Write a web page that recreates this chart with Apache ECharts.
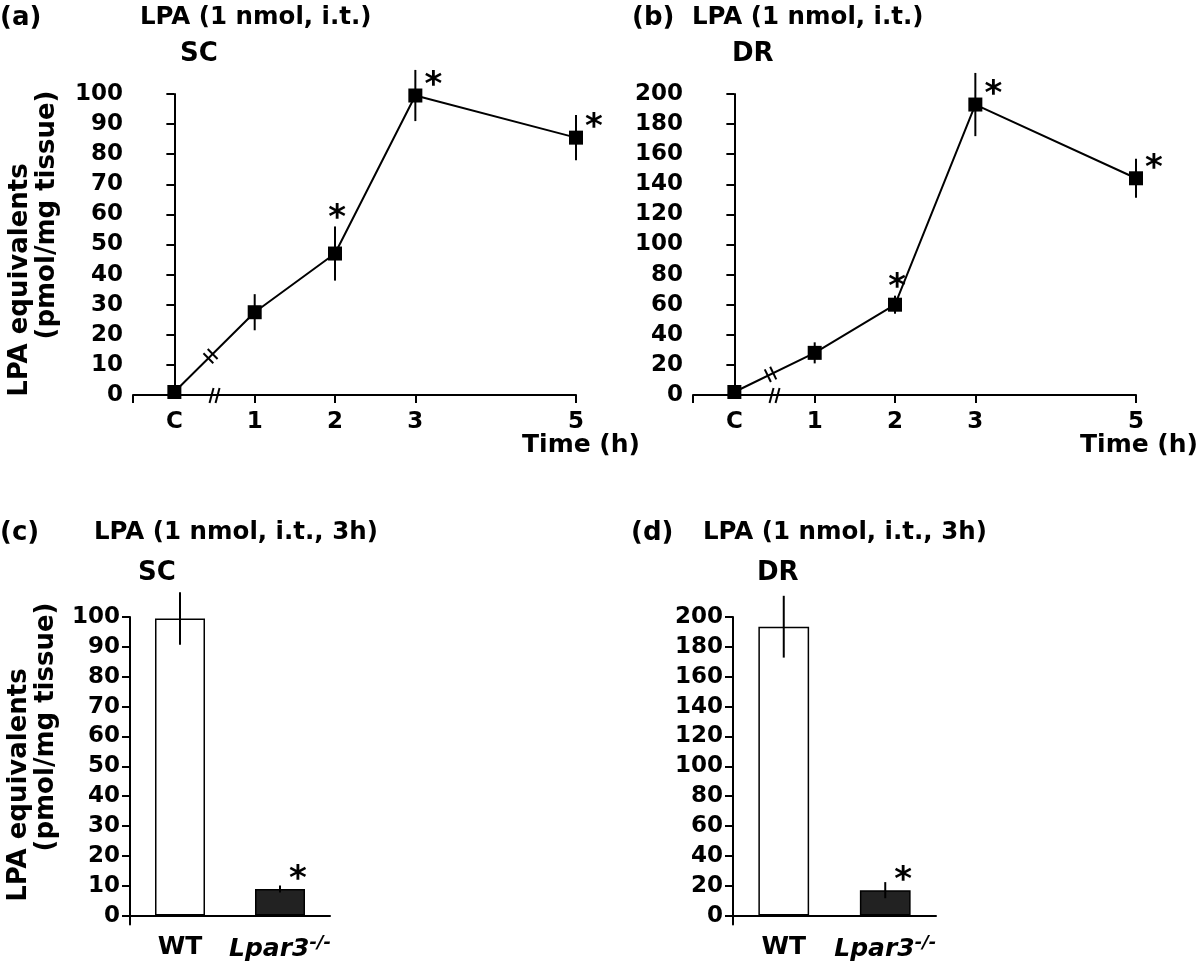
<!DOCTYPE html>
<html><head><meta charset="utf-8">
<script src="https://cdn.jsdelivr.net/npm/echarts@6/dist/echarts.min.js"></script>
<style>html,body{margin:0;padding:0;background:#fff}#c{width:1200px;height:962px}</style>
</head><body><div id="c"></div>
<script>
// ---- data ----
const timeTicks = [0, 1, 2, 3, 5];
const timeLabels = ['C', '1', '2', '3', '5'];
const scMean = [1, 27.5, 47, 99.5, 85.5];
const scErr = [0, 6, 9, 8.5, 7.5];
const scSig = ['', '', 'top', 'right', 'right'];
const drMean = [2, 28, 60, 193, 144];
const drErr = [0, 7, 6, 21, 13];
const drSig = ['', '', 'top', 'right', 'right'];
const genotypes = ['WT', 'Lpar3-/-'];
const scBarMean = [99.5, 8.9];
const scBarErr = [8.8, 1.2];
const drBarMean = [193.5, 17];
const drBarErr = [20.7, 5.4];
const barSig = ['', 'right'];
const scTicks = [0, 10, 20, 30, 40, 50, 60, 70, 80, 90, 100];
const drTicks = [0, 20, 40, 60, 80, 100, 120, 140, 160, 180, 200];
const axisBreakAt = 0.5;

// ---- style ----
const FF = '"DejaVu Sans", "Liberation Sans", sans-serif';
const BLK = '#000';
const tickFont = {fontFamily: FF, fontWeight: 'bold', fontSize: 23, color: BLK};
const XMIN = -0.515;

function timeX(g) {
  return {type: 'value', gridIndex: g, min: XMIN, max: 5,
    axisLine: {show: true, onZero: false, lineStyle: {color: BLK, width: 2}},
    axisTick: {show: true, customValues: [XMIN, 1, 2, 3, 5], length: 8, lineStyle: {color: BLK, width: 2}},
    axisLabel: Object.assign({show: true, customValues: timeTicks, margin: 16,
      formatter: v => timeLabels[timeTicks.indexOf(v)]}, tickFont),
    splitLine: {show: false}};
}
function valY(g, max, interval) {
  return {type: 'value', gridIndex: g, min: 0, max: max, interval: interval,
    axisLine: {show: true, lineStyle: {color: BLK, width: 2}},
    axisTick: {show: true, length: 8, lineStyle: {color: BLK, width: 2}},
    axisLabel: Object.assign({show: true, margin: 10}, tickFont),
    splitLine: {show: false}};
}
function barY(g, min, max, ticks) {
  return {type: 'value', gridIndex: g, min: min, max: max,
    axisLine: {show: true, lineStyle: {color: BLK, width: 2}},
    axisTick: {show: true, customValues: ticks, length: 8, lineStyle: {color: BLK, width: 2}},
    axisLabel: Object.assign({show: true, customValues: ticks, margin: 10}, tickFont),
    splitLine: {show: false}};
}
function catX(g) {
  return {type: 'category', gridIndex: g, data: genotypes, boundaryGap: true,
    axisLine: {show: true, onZero: true, lineStyle: {color: BLK, width: 2}},
    axisTick: {show: false},
    axisLabel: {show: true, margin: 10, interval: 0,
      formatter: v => v === 'WT' ? '{n|WT}' : '{i|Lpar3}{s|-/-}',
      rich: {
        n: {fontFamily: FF, fontWeight: 'bold', fontSize: 25, color: BLK},
        i: {fontFamily: FF, fontWeight: 'bold', fontStyle: 'italic', fontSize: 25, color: BLK},
        s: {fontFamily: FF, fontWeight: 'bold', fontStyle: 'italic', fontSize: 18, color: BLK, padding: [0, 0, 12, 0]}
      }},
    splitLine: {show: false}};
}

function errSeries(g, xs, mean, err) {
  return {type: 'custom', xAxisIndex: g, yAxisIndex: g, silent: true, z: 4, clip: false,
    data: xs.map((x, i) => [x, mean[i], err[i]]),
    renderItem(params, api) {
      const x = api.value(0), m = api.value(1), e = api.value(2);
      if (!e) return null;
      const p1 = api.coord([x, m + e]), p2 = api.coord([x, m - e]);
      return {type: 'line', shape: {x1: p1[0], y1: p1[1], x2: p2[0], y2: p2[1]},
        style: {stroke: BLK, lineWidth: 2}};
    }};
}
function starSeries(g, xs, mean, err, sig) {
  return {type: 'custom', xAxisIndex: g, yAxisIndex: g, silent: true, z: 6, clip: false,
    data: xs.map((x, i) => [x, mean[i], err[i]]),
    renderItem(params, api) {
      const kind = sig[params.dataIndex];
      if (!kind) return null;
      const x = api.value(0), m = api.value(1), e = api.value(2);
      let px, py;
      if (kind === 'top') { const p = api.coord([x, m + e]); px = p[0] + 2; py = p[1] - 16; }
      else { const p = api.coord([x, m]); px = p[0] + 18; py = p[1] - 18; }
      return {type: 'text', x: px, y: py + 9,
        style: {text: '*', fontFamily: FF, fontWeight: 'bold', fontSize: 34, fill: BLK,
          align: 'center', verticalAlign: 'middle'}};
    }};
}
function breakSeries(g, xs, mean) {
  return {type: 'custom', xAxisIndex: g, yAxisIndex: g, silent: true, z: 7, clip: false,
    data: [[xs[0], mean[0]]],
    renderItem(params, api) {
      const a = api.coord([xs[0], mean[0]]), b = api.coord([xs[1], mean[1]]);
      const t = 0.45;
      const cx = a[0] + (b[0] - a[0]) * t, cy = a[1] + (b[1] - a[1]) * t;
      const L = Math.hypot(b[0] - a[0], b[1] - a[1]);
      const ux = (b[0] - a[0]) / L, uy = (b[1] - a[1]) / L;
      const nx = -uy, ny = ux;
      const h = 7, gap = 3;
      const kids = [];
      [-gap, gap].forEach(s => {
        const mx = cx + ux * s, my = cy + uy * s;
        kids.push({type: 'line', shape: {x1: mx - nx * h, y1: my - ny * h, x2: mx + nx * h, y2: my + ny * h},
          style: {stroke: BLK, lineWidth: 2}});
      });
      const p = api.coord([axisBreakAt, 0]);
      [-3, 3].forEach(s => {
        kids.push({type: 'line', shape: {x1: p[0] + s - 2, y1: p[1] + 8, x2: p[0] + s + 2, y2: p[1] - 7},
          style: {stroke: BLK, lineWidth: 2}});
      });
      return {type: 'group', children: kids};
    }};
}
function lineSeries(g, xs, mean) {
  return {type: 'line', xAxisIndex: g, yAxisIndex: g, data: xs.map((x, i) => [x, mean[i]]),
    symbol: 'rect', symbolSize: 14, showSymbol: true, z: 5, silent: true, animation: false,
    itemStyle: {color: BLK}, lineStyle: {color: BLK, width: 2}};
}
function barSeries(g, mean) {
  const fills = ['#ffffff', '#222222'];
  return {type: 'bar', xAxisIndex: g, yAxisIndex: g, barWidth: '50%', z: 2, silent: true,
    data: mean.map((v, i) => ({value: v, itemStyle: {color: fills[i], borderColor: BLK, borderWidth: 1.5}}))};
}

function T(text, x, y, size, extra) {
  return {type: 'text', x: x, y: y, silent: true,
    style: Object.assign({text: text, fontFamily: FF, fontWeight: 'bold', fontSize: size, fill: BLK,
      align: 'left', verticalAlign: 'middle'}, extra || {})};
}
function R(text, x, y, size) {
  return {type: 'text', x: x, y: y, rotation: Math.PI / 2, silent: true,
    style: {text: text, fontFamily: FF, fontWeight: 'bold', fontSize: size, fill: BLK,
      align: 'center', verticalAlign: 'middle'}};
}

const chart = echarts.init(document.getElementById('c'), null, {renderer: 'canvas'});
chart.setOption({
  animation: false,
  backgroundColor: '#fff',
  grid: [
    {left: 133, top: 94, width: 443, height: 301},
    {left: 693, top: 94, width: 443, height: 301},
    {left: 130, top: 617, width: 200, height: 309.7},
    {left: 733, top: 617, width: 203, height: 310.4}
  ],
  xAxis: [timeX(0), timeX(1), catX(2), catX(3)],
  yAxis: [valY(0, 100, 10), valY(1, 200, 20), barY(2, -3, 100, scTicks), barY(3, -6, 200, drTicks)],
  series: [
    lineSeries(0, timeTicks, scMean), errSeries(0, timeTicks, scMean, scErr),
    starSeries(0, timeTicks, scMean, scErr, scSig), breakSeries(0, timeTicks, scMean),
    lineSeries(1, timeTicks, drMean), errSeries(1, timeTicks, drMean, drErr),
    starSeries(1, timeTicks, drMean, drErr, drSig), breakSeries(1, timeTicks, drMean),
    barSeries(2, scBarMean), errSeries(2, genotypes, scBarMean, scBarErr),
    starSeries(2, genotypes, scBarMean, scBarErr, barSig),
    barSeries(3, drBarMean), errSeries(3, genotypes, drBarMean, drBarErr),
    starSeries(3, genotypes, drBarMean, drBarErr, barSig)
  ],
  graphic: [
    T('(a)', 0, 18, 26), T('LPA (1 nmol, i.t.)', 140, 18, 24.5), T('SC', 180, 54, 26),
    T('(b)', 632, 18, 26), T('LPA (1 nmol, i.t.)', 692, 18, 24.5), T('DR', 732, 54, 26),
    T('(c)', 0, 533, 26), T('LPA (1 nmol, i.t., 3h)', 94, 533, 24.5), T('SC', 138, 573, 26),
    T('(d)', 631, 533, 26), T('LPA (1 nmol, i.t., 3h)', 703, 533, 24.5), T('DR', 757, 573, 26),
    T('Time (h)', 640, 445, 25, {align: 'right'}), T('Time (h)', 1198, 445, 25, {align: 'right'}),
    R('LPA equivalents', 20, 280, 26), R('(pmol/mg tissue)', 47, 215, 26),
    R('LPA equivalents', 19, 785, 26), R('(pmol/mg tissue)', 46, 727, 26)
  ]
});
</script></body></html>
